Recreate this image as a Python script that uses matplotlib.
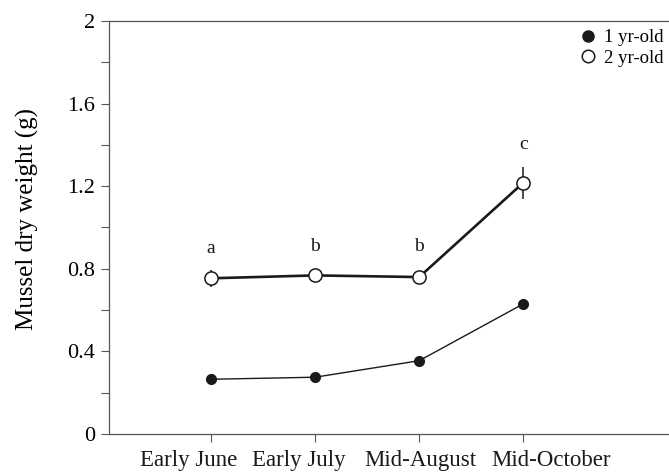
import numpy as np
import matplotlib.pyplot as plt
from matplotlib.transforms import ScaledTranslation

plt.rcParams['font.family'] = ['Liberation Serif', 'DejaVu Serif']

periods = ["Early June", "Early July", "Mid-August", "Mid-October"]
one_yr = [0.265, 0.275, 0.355, 0.63]
two_yr = [0.754, 0.768, 0.760, 1.217]
two_yr_err = [0.04, 0.015, 0.015, 0.077]
letters = ["a", "b", "b", "c"]
letter_y = [0.90, 0.91, 0.91, 1.40]

x = np.arange(1, len(periods) + 1)

fig = plt.figure(figsize=(6.69, 4.74), dpi=100)
ax = fig.add_axes([0.163, 0.0844, 0.837, 0.8713])

ink = "#1a1a1a"
eb = ax.errorbar(x, two_yr, yerr=two_yr_err, color=ink, lw=1.9, marker="o",
                 ms=9.5, mfc="white", mec=ink, mew=1.1, elinewidth=1.1,
                 capsize=0, zorder=3)
l1, = ax.plot(x, one_yr, color=ink, lw=1.0, marker="o", ms=7, mfc=ink,
              mec=ink, zorder=3)

for xi, yi, t in zip(x, letter_y, letters):
    ax.text(xi, yi, t, ha="center", va="center", fontsize=14, color=ink)

ax.set_xlim(0.02, 5.4)
ax.set_ylim(0, 2)
ax.set_xticks(x)
ax.set_xticklabels([])
# labels in the original sit a bit off their ticks, so draw them by hand
shifts = [-22, -16, 1, 28]
xform = ax.get_xaxis_transform()
for xi, name, dx in zip(x, periods, shifts):
    ax.text(xi, -0.038, name, ha="center", va="top", fontsize=16.5,
            color=ink, clip_on=False,
            transform=xform + ScaledTranslation(dx / 100, 0, fig.dpi_scale_trans))
ax.set_yticks([0, 0.4, 0.8, 1.2, 1.6, 2])
ax.set_yticklabels(["0", "0.4", "0.8", "1.2", "1.6", "2"], fontsize=16)
ax.set_yticks(np.arange(0.2, 2, 0.4), minor=True)
ax.tick_params(axis="both", which="both", direction="out", length=6,
               width=0.8, color="#555555")
ax.tick_params(axis="y", pad=4)
ax.set_ylabel("Mussel dry weight (g)", fontsize=18)
ax.yaxis.set_label_coords(-0.125, 0.52)

ax.spines["right"].set_visible(False)
for s in ["left", "top", "bottom"]:
    ax.spines[s].set_color("#555555")
    ax.spines[s].set_linewidth(0.9)

leg = ax.legend([l1, eb[0]], ["1 yr-old", "2 yr-old"], loc="upper left",
                bbox_to_anchor=(580 / 669, 1 - 29 / 474),
                bbox_transform=fig.transFigure, frameon=False,
                fontsize=13.5, handlelength=0.9, handletextpad=0.4,
                labelspacing=0.2, borderpad=0, borderaxespad=0)
for hl, ms in zip(leg.legend_handles, [8, 9]):
    hl.set_linestyle("none")
    hl.set_markersize(ms)

fig.savefig("out.png", dpi=100)
